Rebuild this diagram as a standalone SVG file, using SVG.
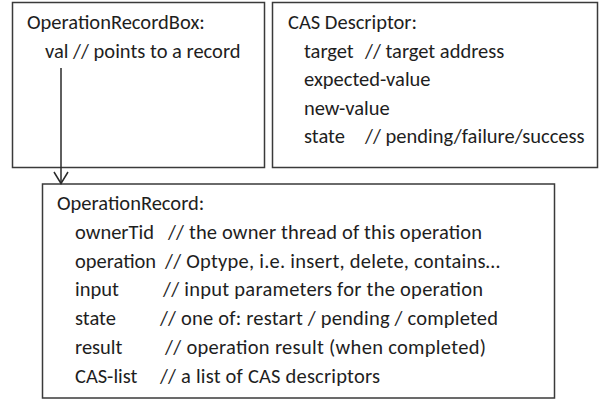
<svg xmlns="http://www.w3.org/2000/svg" width="600" height="400" viewBox="0 0 600 400">
  <style>
    .box { fill: #ffffff; stroke: #3a3a3a; stroke-width: 1.5; }
    .t { font-family: Carlito, Lato, "Liberation Sans", sans-serif; font-size: 20.5px; fill: #1e1e1e; }
    .edge { fill: none; stroke: #2a2a2a; stroke-width: 1.5; }
  </style>
  <defs>
    <marker id="open-arrow" viewBox="0 0 14 16" refX="12.5" refY="8" markerWidth="14" markerHeight="16" markerUnits="userSpaceOnUse" orient="auto">
      <polyline points="1,1 12.5,8 1,15" fill="none" stroke="#2a2a2a" stroke-width="1.5"/>
    </marker>
  </defs>
  <rect width="600" height="400" fill="#ffffff"/>

  <!-- record box holding a pointer -->
  <g id="operation-record-box">
    <rect class="box" x="12.5" y="2.5" width="252" height="165"/>
    <text class="t" x="27" y="29">OperationRecordBox:</text>
    <text class="t" x="45" y="57.5">val // points to a record</text>
  </g>

  <!-- CAS descriptor fields -->
  <g id="cas-descriptor">
    <rect class="box" x="272.5" y="2.5" width="325" height="165"/>
    <text class="t" x="288" y="29">CAS Descriptor:</text>
    <text class="t" x="304" y="57.5">target</text>
    <text class="t" x="365" y="57.5">// target address</text>
    <text class="t" x="304" y="86">expected-value</text>
    <text class="t" x="304" y="114.5">new-value</text>
    <text class="t" x="304" y="143">state</text>
    <text class="t" x="365" y="143">// pending/failure/success</text>
  </g>

  <!-- operation record fields -->
  <g id="operation-record">
    <rect class="box" x="42.5" y="184" width="512" height="214"/>
    <text class="t" x="57" y="210">OperationRecord:</text>
    <text class="t" x="75" y="238.8">ownerTid</text>
    <text class="t" x="168" y="238.8" textLength="314">// the owner thread of this operation</text>
    <text class="t" x="75" y="267.5">operation</text>
    <text class="t" x="165" y="267.5" textLength="335">//  Optype, i.e. insert, delete, contains…</text>
    <text class="t" x="75" y="296.2">input</text>
    <text class="t" x="163" y="296.2" textLength="320">// input parameters for the operation</text>
    <text class="t" x="75" y="325">state</text>
    <text class="t" x="160" y="325" textLength="338">// one of: restart / pending / completed</text>
    <text class="t" x="75" y="353.8">result</text>
    <text class="t" x="165" y="353.8" textLength="321">//  operation result (when completed)</text>
    <text class="t" x="75" y="382.5">CAS-list</text>
    <text class="t" x="160" y="382.5" textLength="220">// a list of CAS descriptors</text>
  </g>

  <!-- pointer from val to the record -->
  <g id="connectors">
    <line class="edge" x1="61" y1="68" x2="61" y2="183.5" marker-end="url(#open-arrow)"/>
  </g>
</svg>
